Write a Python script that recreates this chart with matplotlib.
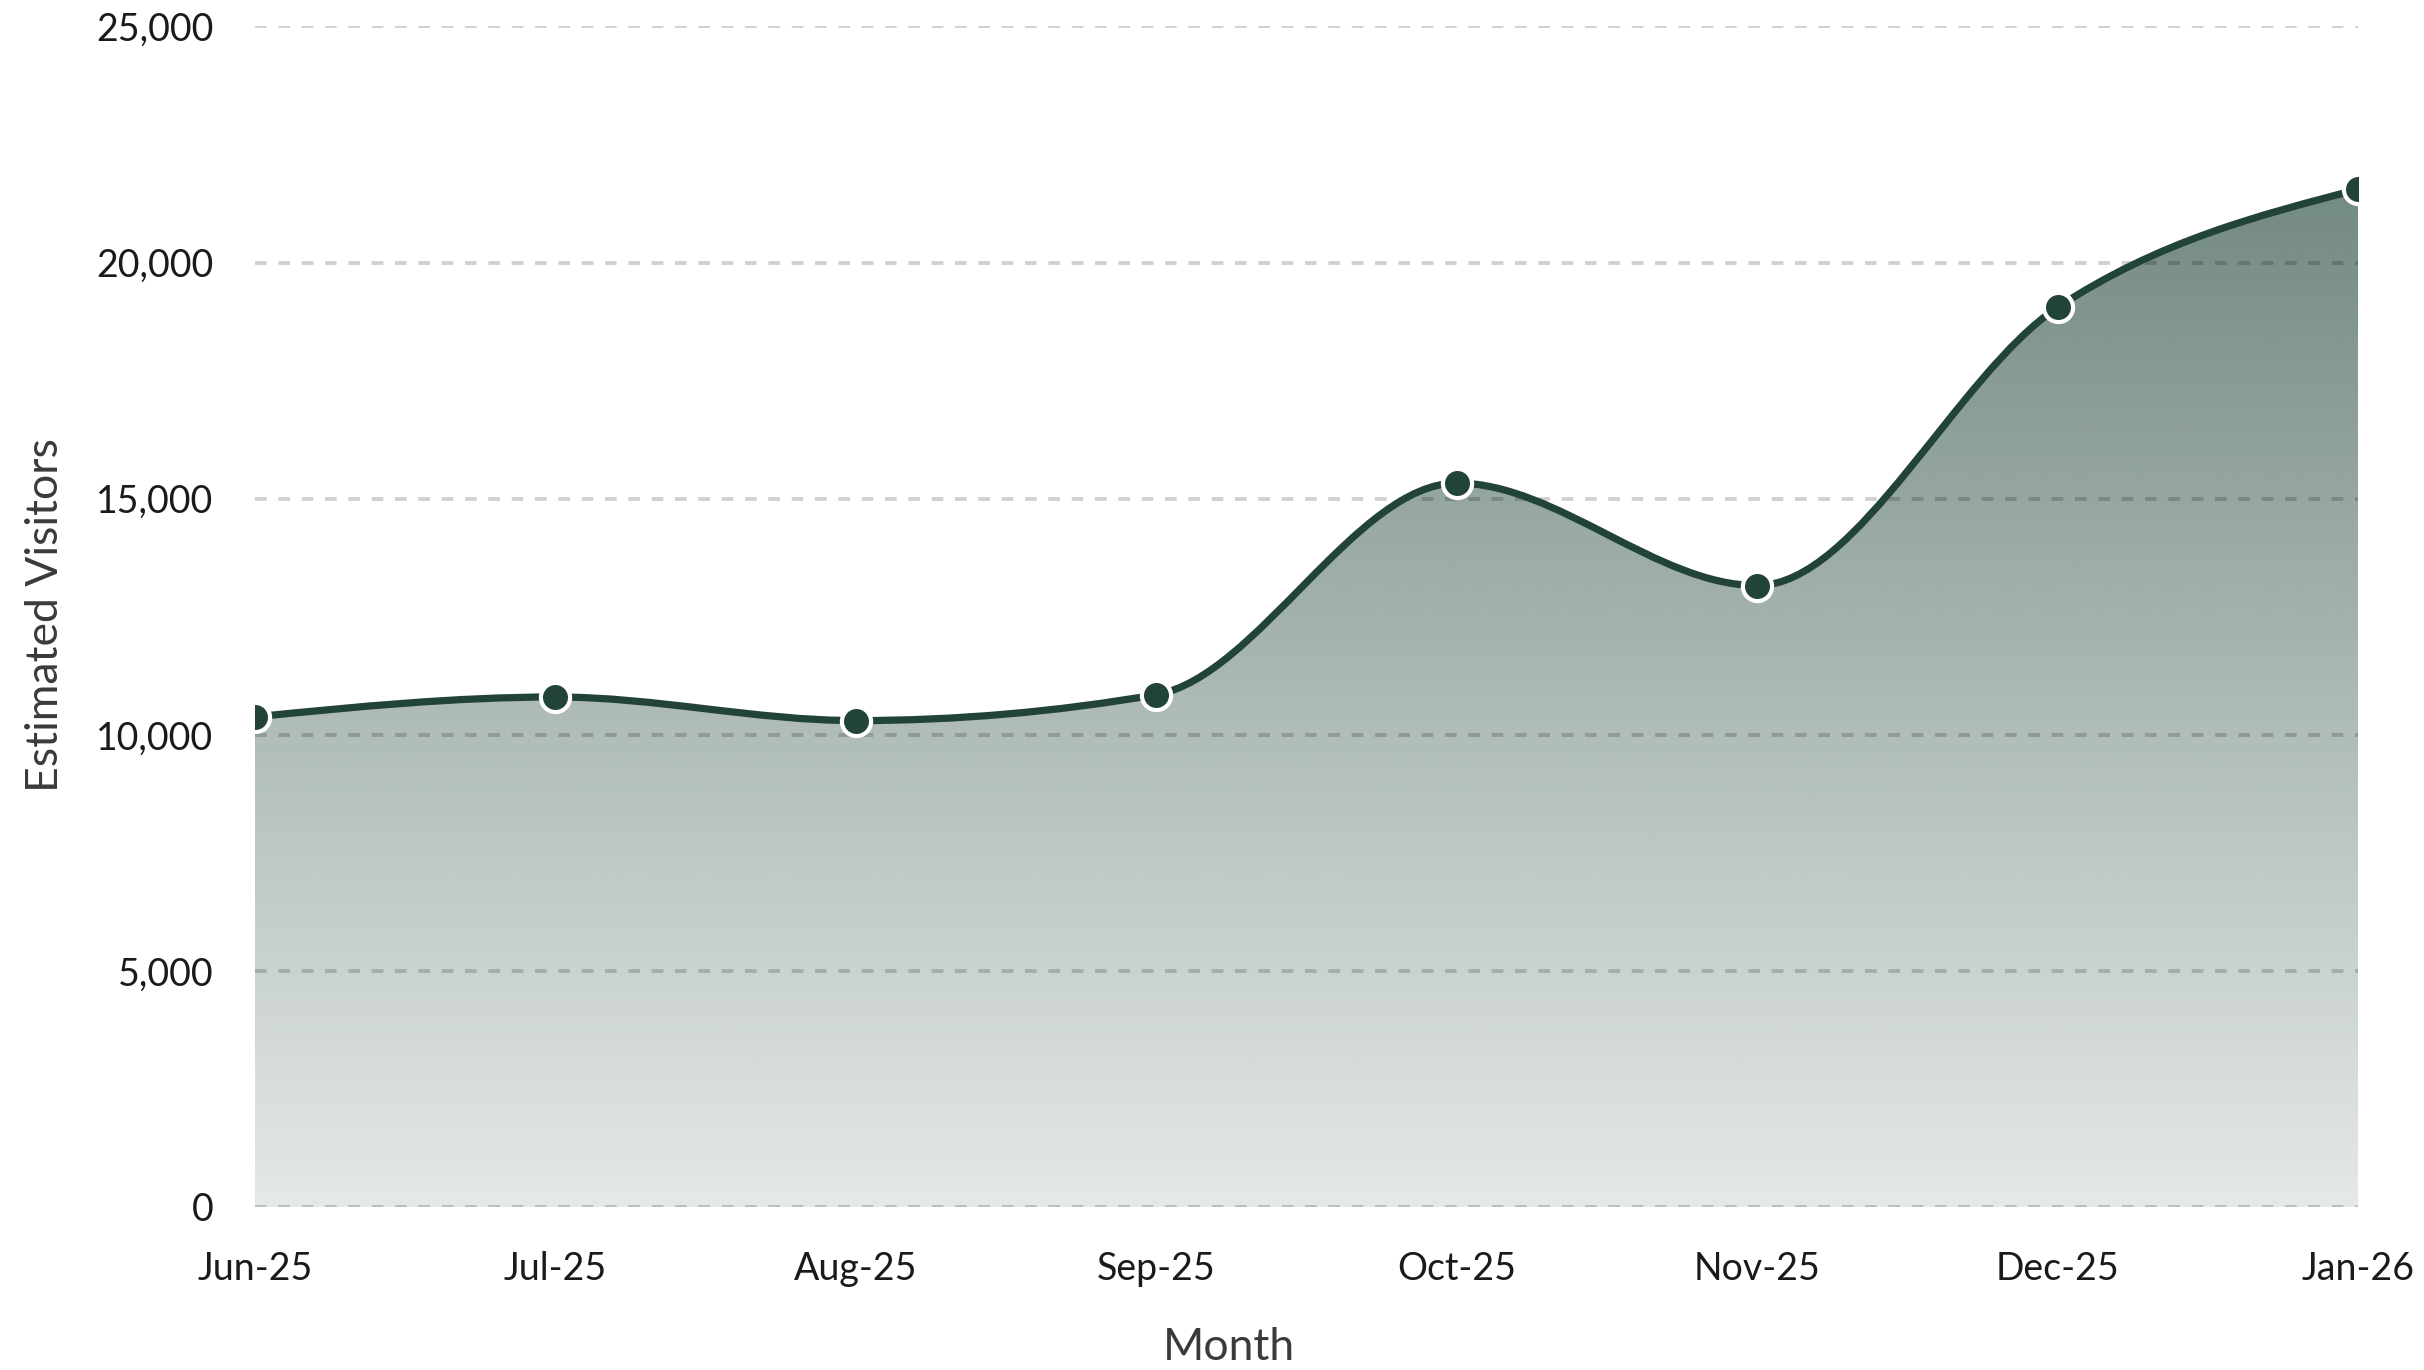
import numpy as np
import matplotlib.pyplot as plt
from matplotlib.path import Path
from matplotlib.patches import PathPatch
from matplotlib.ticker import FuncFormatter

months = ['Jun-25', 'Jul-25', 'Aug-25', 'Sep-25', 'Oct-25', 'Nov-25', 'Dec-25', 'Jan-26']
visitors = [10380, 10800, 10300, 10850, 15330, 13160, 19050, 21550]
y_ticks = [0, 5000, 10000, 15000, 20000, 25000]

line_color = '#21433a'
font = 'Lato'


# monotone cubic curve (same idea as d3 curveMonotoneX) -> bezier path
def monotone_path(xs, ys):
    xs = np.asarray(xs, float)
    ys = np.asarray(ys, float)
    n = len(xs)
    t = np.zeros(n)
    for i in range(1, n - 1):
        h0 = xs[i] - xs[i - 1]
        h1 = xs[i + 1] - xs[i]
        s0 = (ys[i] - ys[i - 1]) / h0
        s1 = (ys[i + 1] - ys[i]) / h1
        p = (s0 * h1 + s1 * h0) / (h0 + h1)
        t[i] = (np.sign(s0) + np.sign(s1)) * min(abs(s0), abs(s1), 0.5 * abs(p))
    h = xs[1] - xs[0]
    t[0] = (3 * (ys[1] - ys[0]) / h - t[1]) / 2
    h = xs[-1] - xs[-2]
    t[-1] = (3 * (ys[-1] - ys[-2]) / h - t[-2]) / 2
    verts = [(xs[0], ys[0])]
    codes = [Path.MOVETO]
    for i in range(n - 1):
        dx = (xs[i + 1] - xs[i]) / 3
        verts += [(xs[i] + dx, ys[i] + dx * t[i]),
                  (xs[i + 1] - dx, ys[i + 1] - dx * t[i + 1]),
                  (xs[i + 1], ys[i + 1])]
        codes += [Path.CURVE4] * 3
    return verts, codes


x = np.arange(len(months))
verts, codes = monotone_path(x, visitors)

fig = plt.figure(figsize=(12.12, 6.85), dpi=200)
ax = fig.add_axes([0.1052, 0.1190, 0.8676, 0.8617])

# gradient area under the curve
area_verts = verts + [(x[-1], 0), (x[0], 0), (x[0], visitors[0])]
area_codes = codes + [Path.LINETO, Path.LINETO, Path.CLOSEPOLY]
area = PathPatch(Path(area_verts, area_codes), facecolor='none', edgecolor='none')
ax.add_patch(area)

top = max(visitors)
grad = np.zeros((256, 1, 4))
rgb = np.array([33, 68, 58]) / 255
grad[:, 0, :3] = rgb
grad[:, 0, 3] = np.linspace(0.12, 0.63, 256)
img = ax.imshow(grad, extent=[x[0], x[-1], 0, top], origin='lower',
                aspect='auto', zorder=1, interpolation='bilinear')
img.set_clip_path(area)

# grid lines over the fill
for v in y_ticks:
    ax.axhline(v, color='#000000', alpha=0.18, lw=1.4, dashes=(3, 3), zorder=2)

line = PathPatch(Path(verts, codes), facecolor='none', edgecolor=line_color,
                 lw=2.6, zorder=3, capstyle='round')
ax.add_patch(line)
ax.plot(x, visitors, 'o', ms=10.5, mfc=line_color, mec='white', mew=1.5, zorder=4)

ax.set_xlim(x[0], x[-1])
ax.set_ylim(0, 25000)
ax.set_xticks(x)
ax.set_xticklabels(months)
ax.set_yticks(y_ticks)
ax.yaxis.set_major_formatter(FuncFormatter(lambda v, p: f'{int(v):,}'))
ax.tick_params(length=0, labelsize=13.5, labelcolor='#1a1a1a')
ax.tick_params(axis='x', pad=16)
ax.tick_params(axis='y', pad=15)
for lab in ax.get_xticklabels() + ax.get_yticklabels():
    lab.set_fontfamily(font)
for s in ax.spines.values():
    s.set_visible(False)

fig.text(0.507, 1 - 1348 / 1370, 'Month', ha='center', va='center', fontsize=16,
         family=font, color='#3a3a3a')
fig.text(46 / 2424, 1 - 398 * 1.546 / 1370, 'Estimated Visitors', ha='center', va='center',
         rotation=90, fontsize=16, family=font, color='#3a3a3a')

fig.savefig('out.png', dpi=200)
